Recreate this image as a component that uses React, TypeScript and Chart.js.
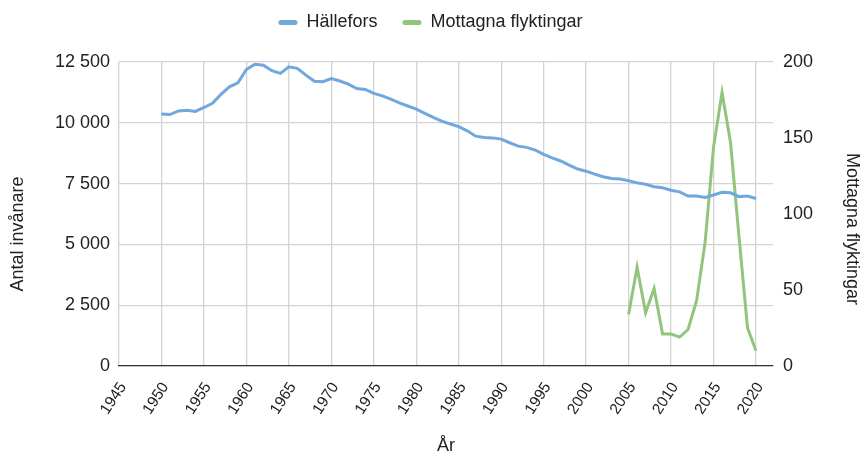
import { useEffect, useRef } from 'react';
import { Chart, registerables } from 'chart.js';

Chart.register(...registerables);

// ---- Data ----
const populationYears = [
  1950, 1951, 1952, 1953, 1954, 1955, 1956, 1957, 1958, 1959,
  1960, 1961, 1962, 1963, 1964, 1965, 1966, 1967, 1968, 1969,
  1970, 1971, 1972, 1973, 1974, 1975, 1976, 1977, 1978, 1979,
  1980, 1981, 1982, 1983, 1984, 1985, 1986, 1987, 1988, 1989,
  1990, 1991, 1992, 1993, 1994, 1995, 1996, 1997, 1998, 1999,
  2000, 2001, 2002, 2003, 2004, 2005, 2006, 2007, 2008, 2009,
  2010, 2011, 2012, 2013, 2014, 2015, 2016, 2017, 2018, 2019,
  2020,
];

const hallefors = [
  10360, 10340, 10490, 10520, 10470, 10630, 10800, 11170, 11480, 11640,
  12190, 12410, 12370, 12140, 12030, 12300, 12240, 11960, 11710, 11690,
  11820, 11720, 11590, 11410, 11370, 11210, 11110, 10970, 10820, 10690,
  10560, 10390, 10220, 10070, 9950, 9840, 9670, 9450, 9400, 9380,
  9330, 9180, 9040, 8990, 8880, 8700, 8560, 8430, 8260, 8100,
  8010, 7890, 7780, 7710, 7690, 7620, 7530, 7470, 7370, 7330,
  7230, 7160, 6990, 6990, 6930, 7030, 7140, 7120, 6960, 6990,
  6890,
];

const refugeeYears = [
  2005, 2006, 2007, 2008, 2009, 2010, 2011, 2012,
  2013, 2014, 2015, 2016, 2017, 2018, 2019, 2020,
];

const refugees = [34, 65, 35, 51, 21, 21, 19, 24, 43, 81, 144, 180, 147, 85, 25, 10];

const seriesLabels = ['Hällefors', 'Mottagna flyktingar'];
const axisTitles = { x: 'År', left: 'Antal invånare', right: 'Mottagna flyktingar' };

const BLUE = '#6fa8dc';
const GREEN = '#93c47d';
const TEXT = '#222222';
const GRID = '#d3d3d3';

const formatSv = (v: number | string) =>
  String(v).replace(/\B(?=(\d{3})+(?!\d))/g, ' ');

const legendSpacer = {
  id: 'legendSpacer',
  beforeInit(chart: any) {
    const legend = chart.legend;
    if (!legend) return;
    const origFit = legend.fit;
    legend.fit = function () {
      origFit.call(this);
      this.height += 20.5;
    };
  },
};

export default function App() {
  const canvasRef = useRef<HTMLCanvasElement | null>(null);

  useEffect(() => {
    document.body.style.margin = '0';
    if (!canvasRef.current) return;
    Chart.defaults.font.family = "'Liberation Sans', Arial, sans-serif";
    Chart.defaults.font.size = 18;
    Chart.defaults.color = TEXT;

    const chart = new Chart(canvasRef.current, {
      type: 'line',
      data: {
        datasets: [
          {
            label: seriesLabels[0],
            data: populationYears.map((x, i) => ({ x, y: hallefors[i] })),
            borderColor: BLUE,
            backgroundColor: BLUE,
            borderWidth: 3,
            pointRadius: 0,
            tension: 0,
            yAxisID: 'y',
          },
          {
            label: seriesLabels[1],
            data: refugeeYears.map((x, i) => ({ x, y: refugees[i] })),
            borderColor: GREEN,
            backgroundColor: GREEN,
            borderWidth: 3,
            pointRadius: 0,
            tension: 0,
            yAxisID: 'y1',
          },
        ],
      },
      options: {
        animation: false,
        responsive: false,
        devicePixelRatio: 1,
        layout: { padding: { top: -11.5, left: 0, right: 0, bottom: 0 } },
        plugins: {
          tooltip: { enabled: false },
          legend: {
            position: 'top',
            labels: {
              boxWidth: 19,
              boxHeight: 5,
              padding: 25,
              color: TEXT,
              font: { size: 18 },
              useBorderRadius: true,
              borderRadius: 2.5,
              generateLabels: (c: any) =>
                Chart.defaults.plugins.legend.labels
                  .generateLabels(c)
                  .map((l: any) => ({ ...l, lineWidth: 0, fillStyle: l.strokeStyle })),
            },
          },
        },
        scales: {
          x: {
            type: 'linear',
            min: 1945,
            max: 2022,
            ticks: {
              stepSize: 5,
              includeBounds: false,
              autoSkip: false,
              minRotation: 57,
              maxRotation: 57,
              padding: 13,
              labelOffset: 4,
              color: TEXT,
              font: { size: 15.5 },
              callback: (v: any) => String(v),
            },
            grid: { color: GRID, lineWidth: 1.3, drawTicks: false },
            border: { display: true, color: '#333333', width: 1.3 },
            title: {
              display: true,
              text: axisTitles.x,
              color: TEXT,
              font: { size: 18 },
              padding: { top: 0, bottom: 2 },
            },
            afterFit: (s: any) => {
              s.height = 93;
            },
          },
          y: {
            type: 'linear',
            position: 'left',
            min: 0,
            max: 12500,
            ticks: {
              stepSize: 2500,
              padding: 9,
              color: TEXT,
              font: { size: 18 },
              callback: (v: any) => formatSv(v),
            },
            grid: { color: GRID, lineWidth: 1.3, drawTicks: false },
            border: { display: false },
            title: {
              display: true,
              text: axisTitles.left + '        ',
              color: TEXT,
              font: { size: 18, lineHeight: 1 },
              padding: { top: 9.5, bottom: 0 },
            },
            afterFit: (s: any) => {
              s.width = 119;
            },
          },
          y1: {
            type: 'linear',
            position: 'right',
            min: 0,
            max: 200,
            ticks: {
              stepSize: 50,
              padding: 10,
              color: TEXT,
              font: { size: 18 },
            },
            grid: { display: false, drawTicks: false },
            border: { display: false },
            title: {
              display: true,
              text: '      ' + axisTitles.right,
              color: TEXT,
              font: { size: 18, lineHeight: 1 },
              padding: { top: 0, bottom: 0 },
            },
            afterFit: (s: any) => {
              s.width = 88;
            },
          },
        },
      } as any,
      plugins: [legendSpacer],
    });

    return () => chart.destroy();
  }, []);

  return (
    <div style={{ position: 'absolute', left: 0, top: 0, width: 861, height: 459, background: '#fff' }}>
      <canvas ref={canvasRef} width={861} height={459} />
    </div>
  );
}
